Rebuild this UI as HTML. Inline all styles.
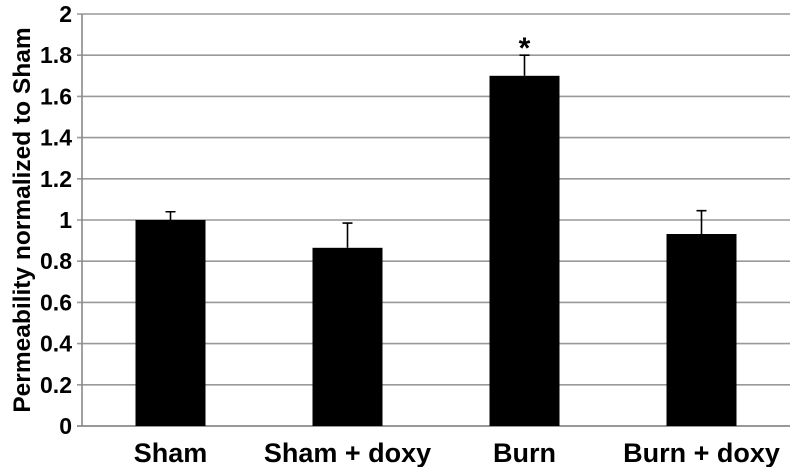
<!DOCTYPE html>
<html><head><meta charset="utf-8"><style>
body{margin:0;background:#fff}
svg text{font-family:"Liberation Sans",Arial,sans-serif;font-weight:bold}
</style></head><body>
<svg width="792" height="467" xmlns="http://www.w3.org/2000/svg">
<g id="grid"></g><g id="bars"></g><g id="labels"></g>
<text transform="translate(30,220) rotate(-90)" text-anchor="middle" font-size="24.5">Permeability normalized to Sham</text>
</svg>
<script>
const categories=["Sham","Sham + doxy","Burn","Burn + doxy"];
const values=[1.0,0.865,1.70,0.932];
const errors=[0.04,0.12,0.10,0.113];
const ticks=[0,0.2,0.4,0.6,0.8,1,1.2,1.4,1.6,1.8,2];
const tickLabels=["0","0.2","0.4","0.6","0.8","1","1.2","1.4","1.6","1.8","2"];
const significant=[false,false,true,false];
const NS="http://www.w3.org/2000/svg";
const L=82,R=790,T=14,B=426;
const y=v=>B-(v/2)*(B-T);
const bw=(R-L)/categories.length;
const x=i=>L+bw*(i+0.5);
function mk(tag,attrs,parent,text){const e=document.createElementNS(NS,tag);for(const k in attrs)e.setAttribute(k,attrs[k]);if(text!==undefined)e.textContent=text;parent.appendChild(e);return e;}
const g=document.getElementById('grid'),gb=document.getElementById('bars'),gl=document.getElementById('labels');
ticks.forEach((t,i)=>{
 const ln=mk('line',{x1:77,x2:R,y1:y(t),y2:y(t),stroke:t===0?'#777':'#999','stroke-width':1.6},g);
 
 
 const tx=mk('text',{x:72,y:y(t)+8,'text-anchor':'end','font-size':23},gl,tickLabels[i]);
 
 
});
const ax=mk('line',{x1:L,x2:L,y1:T,y2:B,stroke:'#888','stroke-width':1.6},g);


categories.forEach((c,i)=>{
 const cx=x(i);
 const eb=mk('path',{d:`M${cx} ${y(values[i])}V${y(values[i]+errors[i])}M${cx-5} ${y(values[i]+errors[i])}H${cx+5}`,stroke:'#000','stroke-width':1.6,fill:'none'},gb);
 
 
 const r=mk('rect',{x:cx-35,y:y(values[i]),width:70,height:B-y(values[i]),fill:'#000'},gb);
 
 
 const t=mk('text',{x:cx,y:462,'text-anchor':'middle','font-size':27},gl,c);
 
 
 if(significant[i]){
  const s=mk('text',{x:cx,y:y(values[i]+errors[i])+3,'text-anchor':'middle','font-size':30},gl,'*');
  
  
 }
});
</script>
</body></html>
